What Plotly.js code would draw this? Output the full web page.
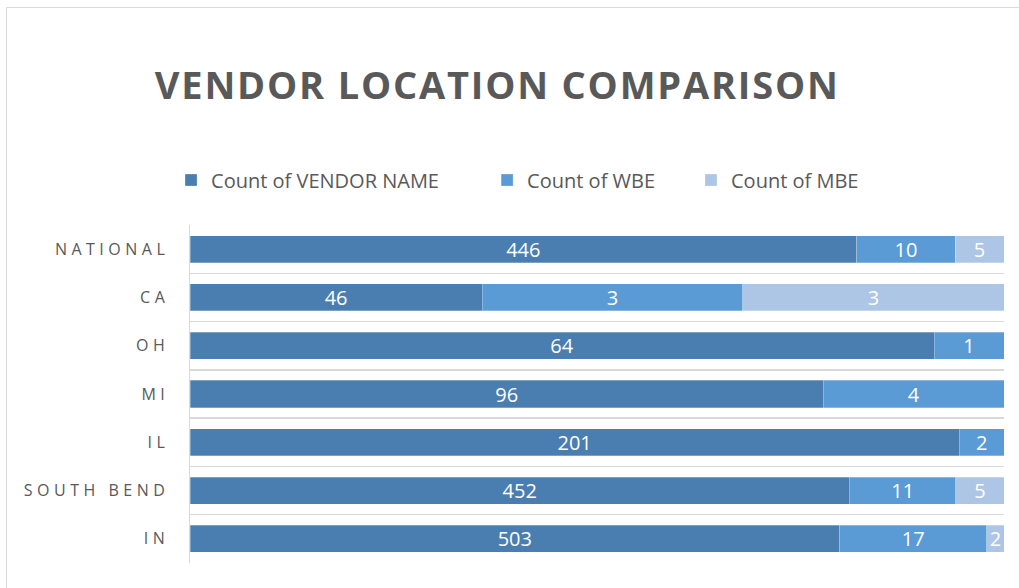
<!DOCTYPE html>
<html>
<head>
<meta charset="utf-8">
<script src="https://cdn.plot.ly/plotly-3.0.1.min.js"></script>
<style>
  html, body { margin: 0; padding: 0; background: #ffffff; }
  #wrap { position: relative; width: 1019px; height: 588px; overflow: hidden; }
  #chart { width: 1019px; height: 588px; }
  #frame { position: absolute; left: 6px; top: 7px; width: 1100px; height: 700px;
           border: 1px solid #d9d9d9; pointer-events: none; box-sizing: border-box; }
  #chart .ytick text { letter-spacing: 4.5px; }
  #chart .gtitle { letter-spacing: 1.8px; }
</style>
</head>
<body>
<div id="wrap">
  <div id="chart"></div>
  <div id="frame"></div>
</div>
<script>
// Categories, top to bottom
const categories = ["NATIONAL", "CA", "OH", "MI", "IL", "SOUTH BEND", "IN"];

// Counts shown as data labels
const vendorCounts = [446, 46, 64, 96, 201, 452, 503];
const wbeCounts    = [10, 3, 1, 4, 2, 11, 17];
const mbeCounts    = [5, 3, null, null, null, 5, 2];

// Bar lengths (percent of each row, 100% stacked)
const vendorShare = [81.9, 35.9, 91.4, 77.8, 94.5, 81.0, 79.8];
const wbeShare    = [12.1, 32.0, 8.6, 22.2, 5.5, 13.1, 18.1];
const mbeShare    = [6.0, 32.1, 0, 0, 0, 5.9, 2.1];

const seriesNames = ["Count of VENDOR NAME", "Count of WBE", "Count of MBE"];
const colors = ["#4a7eb0", "#5b9bd5", "#adc6e6"];

const shares = [vendorShare, wbeShare, mbeShare];
const counts = [vendorCounts, wbeCounts, mbeCounts];
const legendIds = ["legend", "legend2", "legend3"];

const traces = shares.map((s, i) => ({
  type: "bar",
  orientation: "h",
  name: seriesNames[i],
  y: categories,
  x: s,
  text: counts[i].map(v => v === null ? "" : String(v)),
  textposition: "inside",
  insidetextanchor: "middle",
  textangle: 0,
  constraintext: "none",
  textfont: { family: "Open Sans, sans-serif", size: 20, color: "#ffffff" },
  marker: { color: colors[i], line: { width: 0.6, color: "rgba(255,255,255,0.45)" } },
  legend: legendIds[i],
  hoverinfo: "skip"
}));

const legendFont = { family: "Open Sans, sans-serif", size: 20, color: "#595959" };
const legendBase = { orientation: "h", yanchor: "middle", y: 1.133, xanchor: "left",
                     font: legendFont, bgcolor: "rgba(0,0,0,0)", xref: "paper", yref: "paper" };

const layout = {
  width: 1019, height: 588,
  margin: { l: 190, r: 15, t: 225, b: 25, autoexpand: false },
  paper_bgcolor: "#ffffff",
  plot_bgcolor: "#ffffff",
  barmode: "stack",
  bargap: 0.44,
  showlegend: true,
  title: {
    text: "<b>VENDOR LOCATION COMPARISON</b>",
    xref: "container", x: 0.488, xanchor: "center",
    yref: "container", y: 0.855, yanchor: "middle",
    font: { family: "Open Sans, sans-serif", size: 38, color: "#595959" }
  },
  legend:  Object.assign({}, legendBase, { x: -0.0233 }),
  legend2: Object.assign({}, legendBase, { x: 0.365 }),
  legend3: Object.assign({}, legendBase, { x: 0.6155 }),
  xaxis: {
    range: [0, 100],
    showgrid: false, zeroline: false, showticklabels: false,
    showline: false, ticks: "", fixedrange: true
  },
  yaxis: {
    type: "category",
    autorange: "reversed",
    tickson: "boundaries",
    showgrid: true, gridcolor: "#d9d9d9", gridwidth: 1.5,
    showline: true, linecolor: "#d9d9d9", linewidth: 1.5,
    ticks: "", ticklen: 0,
    ticklabelstandoff: 16,
    tickfont: { family: "Open Sans, sans-serif", size: 16, color: "#595959" },
    fixedrange: true
  },
  font: { family: "Open Sans, sans-serif", color: "#595959" }
};

Plotly.newPlot("chart", traces, layout, { displayModeBar: false, staticPlot: true });
</script>
</body>
</html>
